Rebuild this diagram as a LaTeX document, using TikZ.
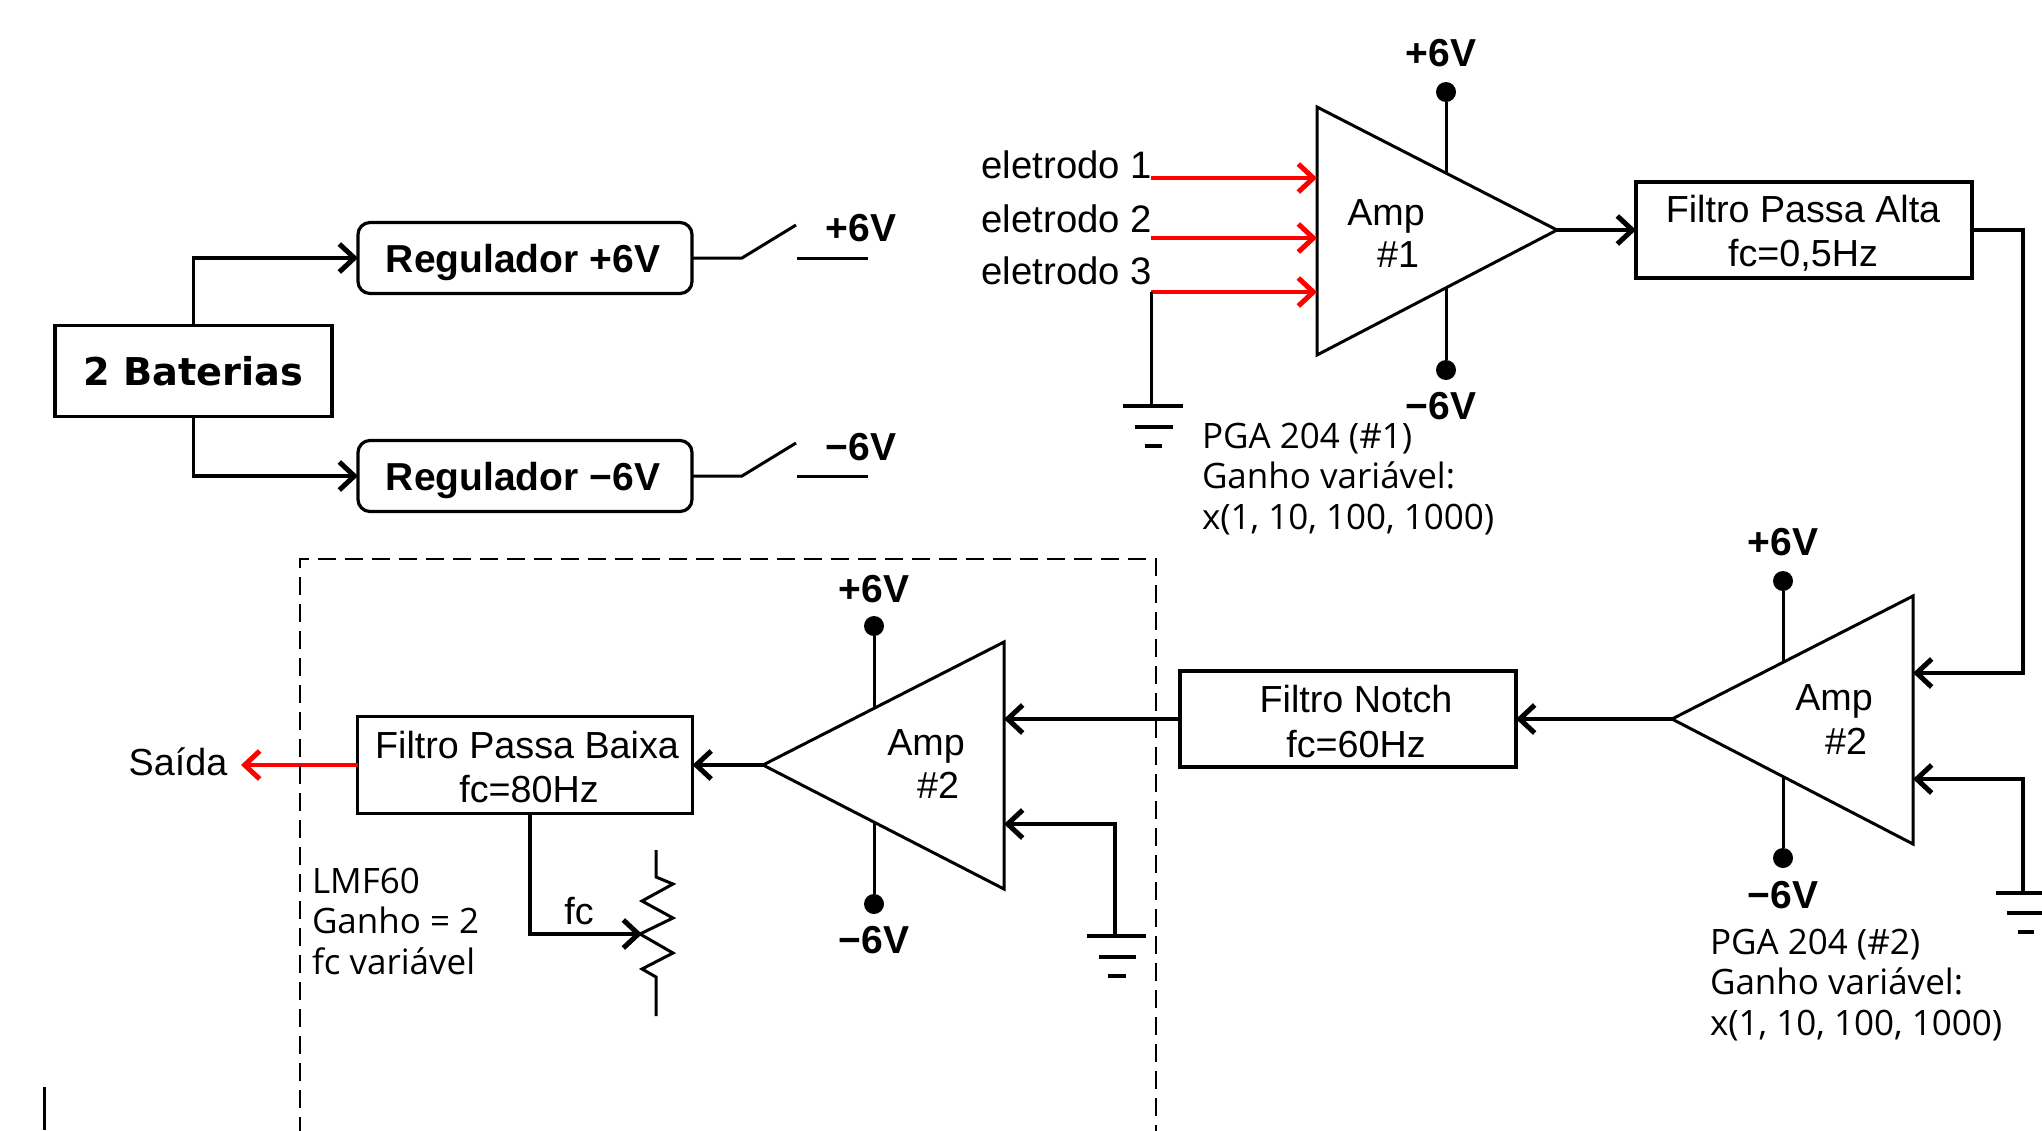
\documentclass[tikz,border=0pt]{standalone}
\usepackage{fontspec}
\setmainfont{Liberation Sans}
\newfontfamily\verdfont{DejaVu Sans}
\newfontfamily\notefont{Open Sans}
\usetikzlibrary{arrows.meta}
\definecolor{wirered}{RGB}{255,0,0}
\tikzset{
  x=1pt,y=-1pt,
  txt/.style={inner sep=0pt,outer sep=0pt,font=\fontsize{37.7}{44}\selectfont,align=center},
  reglabel/.style={inner sep=0pt,outer sep=0pt,font=\fontsize{39}{44}\selectfont\bfseries},
  voltlabel/.style={inner sep=0pt,outer sep=0pt,font=\fontsize{39}{44}\selectfont\bfseries},
  notetxt/.style={inner sep=0pt,outer sep=0pt,anchor=north west,align=left,font=\fontsize{35}{40.5}\selectfont\notefont},
  blockbox/.style={draw,line width=3.6pt,inner sep=0pt,outer sep=0pt,align=center},
  regbox/.style={draw,line width=3.2pt,rounded corners=12pt,inner sep=0pt,outer sep=0pt,minimum width=334pt,minimum height=71pt},
  wire/.style={line width=3pt},
  thin wire/.style={line width=3pt},
  arrowwire/.style={line width=3.6pt,-{Straight Barb[length=15pt,width=28pt,line width=5pt]}},
  redwire/.style={arrowwire,draw=wirered},
  ampshape/.style={line width=3pt,line join=miter},
  pindot/.style={circle,fill=black,inner sep=0pt,outer sep=0pt,minimum size=20pt},
  dashbox/.style={line width=2.8pt,dash pattern=on 18pt off 9pt},
  gndbar/.style={line width=3.6pt},
}
\begin{document}
\begin{tikzpicture}
\useasboundingbox (0,0) rectangle (2042,1130);
% power section
\node[blockbox,minimum width=277pt,minimum height=91pt,font=\fontsize{38.3}{44}\selectfont\verdfont\bfseries] (bat) at (193.5,371) {2 Baterias};
\node[regbox] (regp) at (525,258) {};
\node[regbox] (regn) at (525,476) {};
\node[reglabel] (regpt) at (523,262) {Regulador +6V};
\node[reglabel] (regnt) at (523,480) {Regulador −6V};
\draw[arrowwire] (bat.north) |- (regp.west);
\draw[arrowwire] (bat.south) |- (regn.west);
\coordinate (swpa) at (742,258); \coordinate (swpb) at (796,225);
\coordinate (swpc) at (797,258); \coordinate (swpd) at (868,258);
\coordinate (swna) at (742,476); \coordinate (swnb) at (796,443);
\coordinate (swnc) at (797,476); \coordinate (swnd) at (868,476);
\draw[wire] (regp.east) -- (swpa) -- (swpb);
\draw[wire] (swpc) -- (swpd);
\draw[wire] (regn.east) -- (swna) -- (swnb);
\draw[wire] (swnc) -- (swnd);
\node[voltlabel] (lp) at (861,228) {+6V};
\node[voltlabel] (ln) at (861,447) {−6V};
% Amp 1
\coordinate (a1t) at (1317,107); \coordinate (a1b) at (1317,355); \coordinate (a1o) at (1557,230);
\draw[ampshape] (a1t) -- (a1o) -- (a1b) -- cycle;
\node[txt] (a1l) at (1386,216) {Amp};
\node[txt] (a1n) at (1398,255) {\#1};
\node[pindot] (a1dt) at (1446,92) {};
\node[pindot] (a1db) at (1446,370) {};
\coordinate (a1pt) at (1446,173); \coordinate (a1pb) at (1446,288);
\draw[thin wire] (a1dt) -- (a1pt);
\draw[thin wire] (a1db) -- (a1pb);
\node[voltlabel] (a1vp) at (1441,53) {+6V};
\node[voltlabel] (a1vn) at (1441,406) {−6V};
\node[txt,anchor=east,font=\fontsize{38.3}{44}\selectfont] (e1) at (1152,165) {eletrodo 1};
\node[txt,anchor=east,font=\fontsize{38.3}{44}\selectfont] (e2) at (1152,219) {eletrodo 2};
\node[txt,anchor=east,font=\fontsize{38.3}{44}\selectfont] (e3) at (1152,271) {eletrodo 3};
\coordinate (e1o) at (1151,178); \coordinate (e2o) at (1151,238); \coordinate (e3o) at (1151,292);
\coordinate (a1i1) at (1317,178); \coordinate (a1i2) at (1317,238); \coordinate (a1i3) at (1317,292);
\draw[redwire] (e1o) -- (a1i1);
\draw[redwire] (e2o) -- (a1i2);
\draw[redwire] (e3o) -- (a1i3);
\coordinate (g1) at (1151,406);
\draw[thin wire] (e3o) -- (g1);
\coordinate (g1a) at (1123,406); \coordinate (g1b) at (1183,406);
\coordinate (g1c) at (1135,427); \coordinate (g1d) at (1173,427);
\coordinate (g1e) at (1145,446); \coordinate (g1f) at (1162,446);
\draw[gndbar] (g1a) -- (g1b);
\draw[gndbar] (g1c) -- (g1d);
\draw[gndbar] (g1e) -- (g1f);
\node[notetxt] (pga1) at (1202,423) {PGA 204 (\#1)\\Ganho variável:\\x(1, 10, 100, 1000)};
% high pass
\node[blockbox,minimum width=336pt,minimum height=96pt] (hp) at (1804,230) {};
\node[txt] (hpa) at (1803,209) {Filtro Passa Alta};
\node[txt] (hpb) at (1803,255) {fc=0,5Hz};
\draw[arrowwire] (a1o) -- (hp.west);
% Amp 2
\coordinate (a2t) at (1913,596); \coordinate (a2b) at (1913,844); \coordinate (a2o) at (1672,719);
\draw[ampshape] (a2t) -- (a2o) -- (a2b) -- cycle;
\node[txt] (a2l) at (1834,701) {Amp};
\node[txt] (a2n) at (1846,741) {\#2};
\node[pindot] (a2dt) at (1783,581) {};
\node[pindot] (a2db) at (1783,858) {};
\coordinate (a2pt) at (1783,662); \coordinate (a2pb) at (1783,777);
\draw[thin wire] (a2dt) -- (a2pt);
\draw[thin wire] (a2db) -- (a2pb);
\node[voltlabel] (a2vp) at (1783,542) {+6V};
\node[voltlabel] (a2vn) at (1783,895) {−6V};
\coordinate (hpr) at (2023,230); \coordinate (hpd) at (2023,673); \coordinate (a2i1) at (1913,673);
\draw[arrowwire] (hp.east) -- (hpr) -- (hpd) -- (a2i1);
\coordinate (g2) at (2023,893); \coordinate (g2u) at (2023,779); \coordinate (a2i2) at (1913,779);
\draw[arrowwire] (g2) -- (g2u) -- (a2i2);
\coordinate (g2a) at (1996,893); \coordinate (g2b) at (2042,893);
\coordinate (g2c) at (2007,913); \coordinate (g2d) at (2042,913);
\coordinate (g2e) at (2018,932); \coordinate (g2f) at (2034,932);
\draw[gndbar] (g2a) -- (g2b);
\draw[gndbar] (g2c) -- (g2d);
\draw[gndbar] (g2e) -- (g2f);
\node[notetxt] (pga2) at (1710,929) {PGA 204 (\#2)\\Ganho variável:\\x(1, 10, 100, 1000)};
% notch
\node[blockbox,minimum width=336pt,minimum height=96pt] (notch) at (1348,719) {};
\node[txt] (na) at (1356,699) {Filtro Notch};
\node[txt] (nb) at (1356,744) {fc=60Hz};
\draw[arrowwire] (a2o) -- (notch.east);
% Amp 3
\coordinate (a3t) at (1004,642); \coordinate (a3b) at (1004,889); \coordinate (a3o) at (763,765);
\draw[ampshape] (a3t) -- (a3o) -- (a3b) -- cycle;
\node[txt] (a3l) at (926,746) {Amp};
\node[txt] (a3n) at (938,785) {\#2};
\node[pindot] (a3dt) at (874,626) {};
\node[pindot] (a3db) at (874,904) {};
\coordinate (a3pt) at (874,708); \coordinate (a3pb) at (874,822);
\draw[thin wire] (a3dt) -- (a3pt);
\draw[thin wire] (a3db) -- (a3pb);
\node[voltlabel] (a3vp) at (874,589) {+6V};
\node[voltlabel] (a3vn) at (874,940) {−6V};
\coordinate (a3i1) at (1004,719);
\draw[arrowwire] (notch.west) -- (a3i1);
\coordinate (g3) at (1115,936); \coordinate (g3u) at (1115,824); \coordinate (a3i2) at (1004,824);
\draw[arrowwire] (g3) -- (g3u) -- (a3i2);
\coordinate (g3a) at (1087,936); \coordinate (g3b) at (1146,936);
\coordinate (g3c) at (1099,957); \coordinate (g3d) at (1136,957);
\coordinate (g3e) at (1108,976); \coordinate (g3f) at (1126,976);
\draw[gndbar] (g3a) -- (g3b);
\draw[gndbar] (g3c) -- (g3d);
\draw[gndbar] (g3e) -- (g3f);
% low pass
\node[blockbox,minimum width=335pt,minimum height=97pt] (lpf) at (525,765) {};
\node[txt] (lpa) at (527,745) {Filtro Passa Baixa};
\node[txt] (lpb) at (529,789) {fc=80Hz};
\draw[arrowwire] (a3o) -- (lpf.east);
\node[txt] (said) at (178,762) {Saída};
\coordinate (saidin) at (241,765);
\draw[redwire] (lpf.west) -- (saidin);
% potentiometer
\coordinate (ps) at (530,813); \coordinate (pc) at (530,934); \coordinate (pt) at (642,934);
\draw[arrowwire] (ps) -- (pc) -- (pt);
\node[txt] (fcl) at (579,911) {fc};
\coordinate (r0) at (656,850); \coordinate (r1) at (656,877); \coordinate (r2) at (673,884);
\coordinate (r3) at (642,901); \coordinate (r4) at (673,918); \coordinate (r5) at (640,934);
\coordinate (r6) at (673,953); \coordinate (r7) at (642,969); \coordinate (r8) at (656,977);
\coordinate (r9) at (656,1016);
\draw[thin wire] (r0) -- (r1) -- (r2) -- (r3) -- (r4) -- (r5) -- (r6) -- (r7) -- (r8) -- (r9);
\node[notetxt] (lmf) at (312,868) {LMF60\\Ganho = 2\\fc variável};
% dashed enclosure
\coordinate (dbl) at (300,1135); \coordinate (dtl) at (300,559);
\coordinate (dtr) at (1156,559); \coordinate (dbr) at (1156,1150);
\draw[dashbox] (dbl) -- (dtl) -- (dtr) -- (dbr);
% stray mark
\coordinate (sa) at (44.5,1087); \coordinate (sb) at (44.5,1130);
\draw[line width=2.4pt] (sa) -- (sb);
\end{tikzpicture}
\end{document}
